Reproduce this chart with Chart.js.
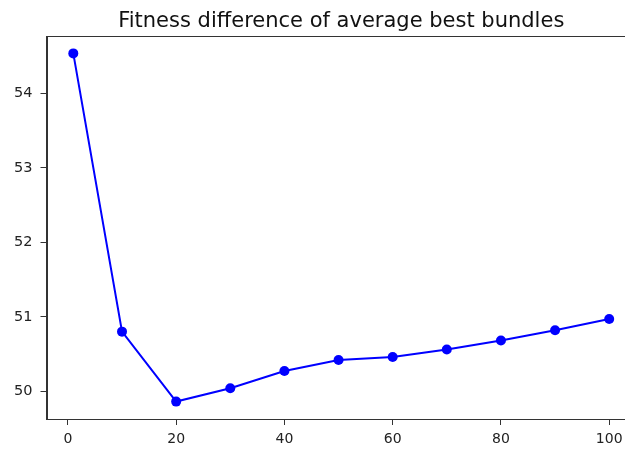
<!DOCTYPE html>
<html>
<head>
<meta charset="utf-8">
<script src="https://cdn.jsdelivr.net/npm/chart.js@4/dist/chart.umd.min.js"></script>
<style>
html,body{margin:0;padding:0;background:#fff;overflow:hidden;}
canvas{display:block;}
</style>
</head>
<body>
<canvas id="c" width="625" height="453" style="width:625px;height:453px"></canvas>
<script>
const xValues = [1, 10, 20, 30, 40, 50, 60, 70, 80, 90, 100];
const yValues = [54.54, 50.80, 49.86, 50.04, 50.27, 50.42, 50.46, 50.56, 50.68, 50.82, 50.97];
const xTicks = [0, 20, 40, 60, 80, 100];
const yTicks = [50, 51, 52, 53, 54];
const titleText = 'Fitness difference of average best bundles';

const points = xValues.map((x, i) => ({x: x, y: yValues[i]}));

// The reference plot frame continues past the right edge of the picture (cropped figure).
const PLOT_RIGHT = 636;

const extendPlugin = {
  id: 'extendRight',
  afterLayout(chart) {
    const ca = chart.chartArea;
    ca.right = PLOT_RIGHT;
    ca.width = PLOT_RIGHT - ca.left;
    const xs = chart.scales.x;
    xs.right = PLOT_RIGHT;
    xs.width = PLOT_RIGHT - xs.left;
    xs.configure();
    const t = chart.titleBlock;
    if (t) { t.right = PLOT_RIGHT; t.width = PLOT_RIGHT - t.left; }
  }
};

const framePlugin = {
  id: 'frame',
  afterDatasetsDraw(chart) {
    const a = chart.chartArea, ctx = chart.ctx;
    ctx.save();
    ctx.strokeStyle = '#333';
    ctx.lineWidth = 1;
    ctx.strokeRect(Math.round(a.left) + 0.5, Math.round(a.top) + 0.5, Math.round(a.right - a.left), Math.round(a.bottom - a.top));
    ctx.restore();
  }
};

new Chart(document.getElementById('c'), {
  type: 'line',
  data: {
    datasets: [{
      data: points,
      borderColor: '#0000ff',
      backgroundColor: '#0000ff',
      borderWidth: 2,
      pointRadius: 5,
      pointHoverRadius: 5,
      pointBorderWidth: 0,
      tension: 0,
      fill: false
    }]
  },
  plugins: [extendPlugin, framePlugin],
  options: {
    responsive: false,
    animation: false,
    devicePixelRatio: 1,
    layout: {padding: {left: 0, right: 0, top: 0, bottom: 0}},
    plugins: {
      legend: {display: false},
      tooltip: {enabled: false},
      title: {
        display: true,
        fullSize: false,
        text: titleText,
        color: '#111',
        font: {family: 'DejaVu Sans', size: 21, weight: 'normal', lineHeight: 1.2},
        padding: {top: 8.8, bottom: 2}
      }
    },
    scales: {
      x: {
        type: 'linear',
        min: -3.95,
        max: 104.95,
        afterBuildTicks(scale) { scale.ticks = xTicks.map(v => ({value: v})); },
        afterFit(scale) { scale.height = 34; },
        ticks: {
          color: '#222',
          font: {family: 'DejaVu Sans', size: 14},
          padding: 6,
          maxRotation: 0,
          autoSkip: false
        },
        grid: {display: true, drawOnChartArea: false, drawTicks: true, tickLength: 6, color: '#333', tickColor: '#333'},
        border: {display: true, color: '#333'}
      },
      y: {
        type: 'linear',
        min: 49.626,
        max: 54.774,
        afterBuildTicks(scale) { scale.ticks = yTicks.map(v => ({value: v})); },
        afterFit(scale) { scale.width = 46.5; },
        ticks: {
          color: '#222',
          font: {family: 'DejaVu Sans', size: 14.5},
          padding: 8,
          autoSkip: false
        },
        grid: {display: true, drawOnChartArea: false, drawTicks: true, tickLength: 6, color: '#333', tickColor: '#333'},
        border: {display: true, color: '#333'}
      }
    }
  }
});
</script>
</body>
</html>
